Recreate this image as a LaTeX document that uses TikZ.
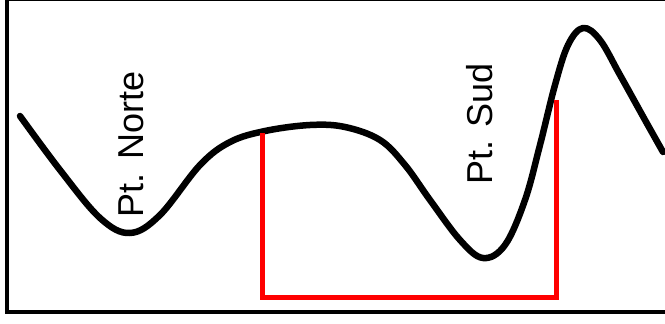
\documentclass[tikz,border=0pt]{standalone}
\usepackage{fontspec}
\setmainfont{Liberation Sans}
\begin{document}
\begin{tikzpicture}[x=1pt,y=-1pt,
  frame/.style={line width=4pt,black},
  profile/.style={line width=6.5pt,black,line cap=round,line join=round},
  section/.style={line width=5pt,red,line join=miter},
  lbl/.style={rotate=90,anchor=base,inner sep=0pt,font=\fontsize{36}{40}\selectfont}]
\useasboundingbox (0,0) rectangle (665,324);
\draw[frame] (7,-2) -- (7,311.5) -- (670,311.5);
\draw[line width=2pt] (7,0) -- (670,0);
\draw[profile] plot[smooth,tension=0.6] coordinates {(20,116) (60,170) (100,218) (130,233) (160,215) (200,165) (230,142) (265,131) (310,125) (345,127) (380,140) (405,165) (430,200) (460,240) (483,258) (505,245) (525,200) (540,145) (555,85) (568,45) (583,28) (600,40) (620,75) (645,120) (663,152)};
\coordinate (a) at (262,133);
\coordinate (b) at (262,297);
\coordinate (c) at (556,297);
\coordinate (d) at (556,100);
\draw[section] (a) -- (b) -- (c) -- (d);
\node[lbl] (norte) at (143,144.5) {Pt. Norte};
\node[lbl] (sud) at (492,124) {Pt. Sud};
\end{tikzpicture}
\end{document}
